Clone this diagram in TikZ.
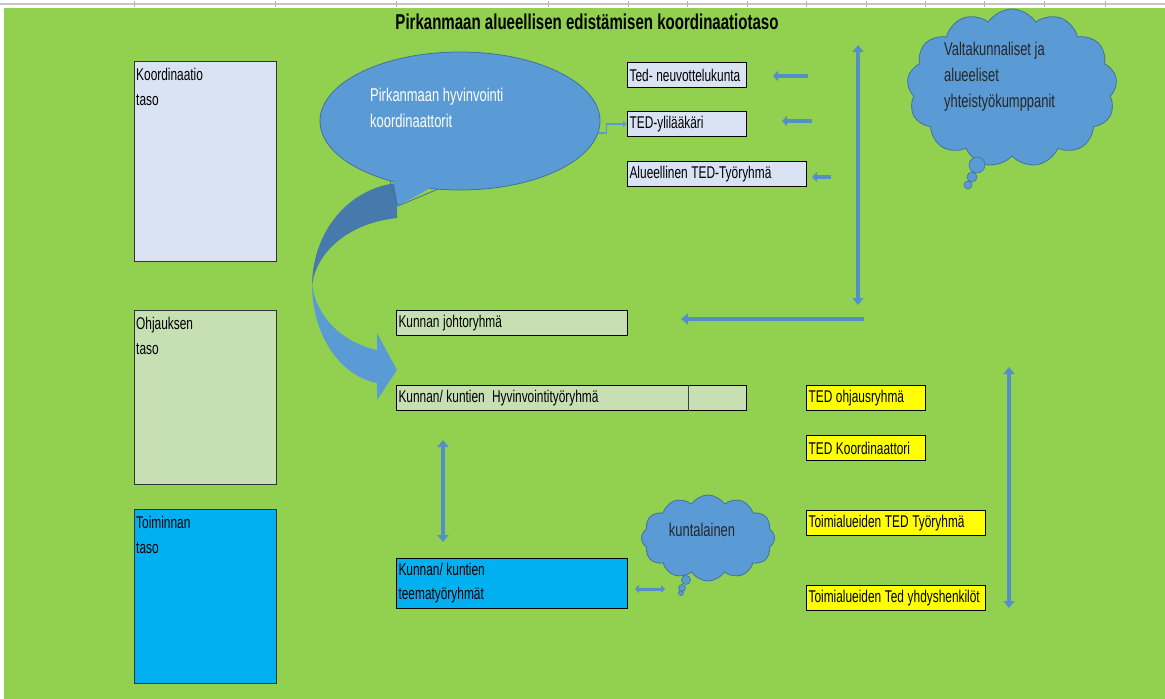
\documentclass[tikz,border=0pt]{standalone}
\usepackage{fontspec}
\setmainfont{Liberation Sans}[FakeStretch=0.70]
\usepackage{tikz}
\usetikzlibrary{arrows.meta,shapes.geometric,shapes.symbols}
\definecolor{grass}{RGB}{146, 208, 80}
\definecolor{lavender}{RGB}{218, 227, 243}
\definecolor{sage}{RGB}{198, 224, 180}
\definecolor{cyanbox}{RGB}{0, 176, 240}
\definecolor{lemon}{RGB}{255, 255, 0}
\definecolor{steel}{RGB}{91, 155, 213}
\definecolor{steeldark}{RGB}{65, 113, 156}
\definecolor{steeldeep}{RGB}{70, 121, 172}
\definecolor{arrowblue}{RGB}{84, 144, 200}
\newcommand{\cellfont}[2]{\fontsize{#1}{#2}\selectfont\hyphenpenalty=10000\relax}
\newcommand{\tightspace}{\spaceskip=3.6pt plus 1pt minus 1pt\relax}

\begin{document}
\begin{tikzpicture}[x=1pt, y=-1pt,
    box/.style={draw=black, line width=1.1pt, anchor=north west, minimum height=25pt,
                inner xsep=2pt, inner ysep=2pt, text width=#1, align=left,
                font=\cellfont{17}{24}, execute at begin node=\tightspace},
    level/.style={draw=black!80, line width=1.1pt, anchor=north west,
                  minimum width=142pt, minimum height=#1},
    levellabel/.style={anchor=north west, align=left, inner xsep=2pt, inner ysep=7pt,
                       font=\cellfont{17}{25}},
    blockarrow/.style={draw=arrowblue, line width=4.5pt, -{Triangle[width=11pt,length=7pt]}},
    twoway/.style={draw=arrowblue, line width=4.5pt,
                   {Triangle[width=11pt,length=7pt]}-{Triangle[width=11pt,length=7pt]}},
    puff/.style={cloud, cloud puffs=#1, cloud puff arc=115, cloud ignores aspect,
                 fill=steel, draw=steeldark, line width=0.8pt},
    bubbletext/.style={align=left, inner sep=0pt, font=\cellfont{18.5}{26},
                       execute at begin node=\tightspace}
  ]
  \useasboundingbox (0,0) rectangle (1165,699);
  % sheet background
  \fill[white] (0,0) rectangle (1165,699);
  \fill[grass] (4,8) rectangle (1165,699);
  \draw[gray!45, line width=2pt] (0,4) -- (1165,4);
  \foreach \col in {134,275,396,548,628,687,747,806,866,925,984,1044,1105}
    \draw[gray!60, line width=0.8pt] (\col,1) -- (\col,7);

  \node[font=\fontsize{21.5}{23}\selectfont\bfseries] (title) at (587,22)
       {Pirkanmaan alueellisen edistämisen koordinaatiotaso};

  % tasot
  \node[level=200pt, fill=lavender, label={[levellabel]north west:Koordinaatio\\taso}] (koordtaso) at (134,61) {};
  \node[level=174pt, fill=sage,     label={[levellabel]north west:Ohjauksen\\taso}]    (ohjtaso)   at (134,310) {};
  \node[level=174pt, fill=cyanbox,  label={[levellabel]north west:Toiminnan\\taso}]    (toimtaso)  at (134,509) {};

  % curved arrow
  \fill[steeldeep] (397,183) .. controls (350,188) and (312,230) .. (312,287)
        .. controls (314,258) and (342,224) .. (397,218) -- cycle;
  \fill[steel] (312,284) .. controls (312,335) and (340,376) .. (377,383)
        -- (377,400) -- (397,370) -- (377,333) -- (377,350)
        .. controls (344,343) and (316,318) .. (312,284) -- cycle;

  % puhekupla
  \node[ellipse, fill=steel, draw=steeldark, line width=0.8pt,
        minimum width=280pt, minimum height=138pt] (koordinaattorit) at (460,121) {};
  \fill[steel] (392,172) -- (398,206) -- (445,180) -- cycle;
  \draw[steeldark, line width=0.8pt] (390,181) -- (398,206) -- (438,189);
  \node[bubbletext, text=white, anchor=north west] (koordteksti) at (370,88)
       {Pirkanmaan hyvinvointi\\koordinaattorit};

  % TED boxes up
  \node[box=115pt, fill=lavender] (neuvottelu)  at (627,62)  {Ted- neuvottelukunta};
  \node[box=115pt, fill=lavender] (ylilaakari)  at (627,111) {TED-ylilääkäri};
  \node[box=175pt, fill=lavender] (alueellinen) at (627,161) {Alueellinen TED-Työryhmä};
  \draw[steel, line width=1.3pt, -{Triangle[width=6pt,length=4pt]}]
       (koordinaattorit.-5) -- ++(8,0) |- (ylilaakari.west);

  % kunta
  \node[box=227pt, fill=sage] (johto) at (396,310) {Kunnan johtoryhmä};
  \node[box=346pt, fill=sage] (hyvinvointi) at (396,385) {Kunnan/ kuntien\ \ Hyvinvointityöryhmä};
  \draw[black!75, line width=1pt] ([xshift=-59pt]hyvinvointi.north east) -- ([xshift=-59pt]hyvinvointi.south east);
  \node[box=227pt, fill=cyanbox, minimum height=50pt] (teema) at (396,558) {Kunnan/ kuntien\\teematyöryhmät};

  % TED boxes right
  \node[box=115pt, fill=lemon] (ohjaus)   at (806,385) {TED ohjausryhmä};
  \node[box=115pt, fill=lemon] (tedkoord) at (806,435) {TED Koordinaattori};
  \node[box=175pt, fill=lemon] (toimityo) at (806,510) {Toimialueiden TED Työryhmä};
  \node[box=175pt, fill=lemon] (yhdys)    at (806,585) {Toimialueiden Ted yhdyshenkilöt};

  % pilvet
  \node[puff=13, minimum width=210pt, minimum height=158pt] (valta) at (1012,88) {};
  \filldraw[fill=steel, draw=steeldark, line width=0.6pt] (977,165) circle (8) (972,177) circle (5) (968,185) circle (4);
  \node[bubbletext, text=black!85, anchor=north west] (valtateksti) at (944,42)
       {Valtakunnaliset ja\\alueeliset\\yhteistyökumppanit};
  \node[puff=12, minimum width=133pt, minimum height=86pt] (kuntapilvi) at (708,538) {};
  \filldraw[fill=steel, draw=steeldark, line width=0.6pt] (686,580) circle (4.5) (682,588) circle (3.5) (681,593) circle (2.5);
  \node[bubbletext, text=black!85] (kuntalainen) at (702,530) {kuntalainen};

  % nuolet
  \coordinate (n1) at (808,76);  \coordinate (m1) at (773,76);
  \coordinate (n2) at (812,121); \coordinate (m2) at (782,121);
  \coordinate (n3) at (831,177); \coordinate (m3) at (812,177);
  \draw[blockarrow, line width=4pt, -{Triangle[width=10pt,length=5pt]}] (n1) -- (m1);
  \draw[blockarrow, line width=4pt, -{Triangle[width=10pt,length=5pt]}] (n2) -- (m2);
  \draw[blockarrow, line width=4pt, -{Triangle[width=10pt,length=5pt]}] (n3) -- (m3);
  \coordinate (ylos)  at (858,45);  \coordinate (alas)  at (858,305);
  \draw[twoway] (ylos) -- (alas);
  \coordinate (oikea) at (864,319); \coordinate (johtonuoli) at (681,319);
  \draw[blockarrow] (oikea) -- (johtonuoli);
  \coordinate (hyvala) at (443,440); \coordinate (teemayla) at (443,542);
  \draw[twoway] (hyvala) -- (teemayla);
  \coordinate (tedyla) at (1009,367); \coordinate (tedala) at (1009,608);
  \draw[twoway] (tedyla) -- (tedala);
  \coordinate (teemaoik) at (635,589); \coordinate (pilvivas) at (665,589);
  \draw[twoway, line width=3pt, {Triangle[width=8pt,length=4pt]}-{Triangle[width=8pt,length=4pt]}] (teemaoik) -- (pilvivas);
\end{tikzpicture}
\end{document}
